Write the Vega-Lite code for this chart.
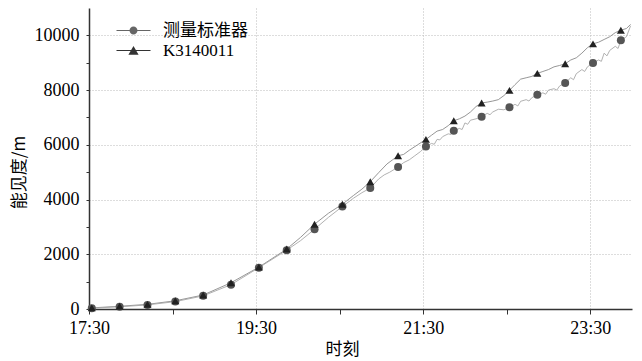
{
  "$schema": "https://vega.github.io/schema/vega-lite/v6.json",
  "width": 543,
  "height": 301,
  "autosize": {"type": "none"},
  "padding": {"left": 89, "top": 8, "right": 10, "bottom": 52},
  "background": "white",
  "config": {
    "view": {"stroke": null},
    "font": "Liberation Serif"
  },
  "datasets": {
    "lines": [
      {"t": "2020-01-01T17:30:00Z", "s": "K3140011", "v": 30},
      {"t": "2020-01-01T17:32:00Z", "s": "K3140011", "v": 40},
      {"t": "2020-01-01T17:52:00Z", "s": "K3140011", "v": 100},
      {"t": "2020-01-01T18:12:00Z", "s": "K3140011", "v": 170},
      {"t": "2020-01-01T18:32:00Z", "s": "K3140011", "v": 300},
      {"t": "2020-01-01T18:52:00Z", "s": "K3140011", "v": 510},
      {"t": "2020-01-01T19:12:00Z", "s": "K3140011", "v": 960},
      {"t": "2020-01-01T19:32:00Z", "s": "K3140011", "v": 1530},
      {"t": "2020-01-01T19:52:00Z", "s": "K3140011", "v": 2190},
      {"t": "2020-01-01T20:02:00Z", "s": "K3140011", "v": 2620},
      {"t": "2020-01-01T20:12:00Z", "s": "K3140011", "v": 3100},
      {"t": "2020-01-01T20:22:00Z", "s": "K3140011", "v": 3500},
      {"t": "2020-01-01T20:32:00Z", "s": "K3140011", "v": 3830},
      {"t": "2020-01-01T20:40:00Z", "s": "K3140011", "v": 4150},
      {"t": "2020-01-01T20:46:00Z", "s": "K3140011", "v": 4380},
      {"t": "2020-01-01T20:52:00Z", "s": "K3140011", "v": 4650},
      {"t": "2020-01-01T20:58:00Z", "s": "K3140011", "v": 4980},
      {"t": "2020-01-01T21:04:00Z", "s": "K3140011", "v": 5300},
      {"t": "2020-01-01T21:08:00Z", "s": "K3140011", "v": 5450},
      {"t": "2020-01-01T21:12:00Z", "s": "K3140011", "v": 5600},
      {"t": "2020-01-01T21:16:00Z", "s": "K3140011", "v": 5650},
      {"t": "2020-01-01T21:20:00Z", "s": "K3140011", "v": 5800},
      {"t": "2020-01-01T21:26:00Z", "s": "K3140011", "v": 6000},
      {"t": "2020-01-01T21:32:00Z", "s": "K3140011", "v": 6200},
      {"t": "2020-01-01T21:36:00Z", "s": "K3140011", "v": 6350},
      {"t": "2020-01-01T21:40:00Z", "s": "K3140011", "v": 6500},
      {"t": "2020-01-01T21:44:00Z", "s": "K3140011", "v": 6560},
      {"t": "2020-01-01T21:48:00Z", "s": "K3140011", "v": 6700},
      {"t": "2020-01-01T21:52:00Z", "s": "K3140011", "v": 6880},
      {"t": "2020-01-01T21:56:00Z", "s": "K3140011", "v": 6950},
      {"t": "2020-01-01T22:00:00Z", "s": "K3140011", "v": 7050},
      {"t": "2020-01-01T22:04:00Z", "s": "K3140011", "v": 7200},
      {"t": "2020-01-01T22:08:00Z", "s": "K3140011", "v": 7400},
      {"t": "2020-01-01T22:12:00Z", "s": "K3140011", "v": 7530},
      {"t": "2020-01-01T22:16:00Z", "s": "K3140011", "v": 7560},
      {"t": "2020-01-01T22:20:00Z", "s": "K3140011", "v": 7600},
      {"t": "2020-01-01T22:24:00Z", "s": "K3140011", "v": 7650},
      {"t": "2020-01-01T22:28:00Z", "s": "K3140011", "v": 7800},
      {"t": "2020-01-01T22:32:00Z", "s": "K3140011", "v": 7990},
      {"t": "2020-01-01T22:36:00Z", "s": "K3140011", "v": 8200},
      {"t": "2020-01-01T22:40:00Z", "s": "K3140011", "v": 8400},
      {"t": "2020-01-01T22:44:00Z", "s": "K3140011", "v": 8450},
      {"t": "2020-01-01T22:48:00Z", "s": "K3140011", "v": 8500},
      {"t": "2020-01-01T22:52:00Z", "s": "K3140011", "v": 8610},
      {"t": "2020-01-01T22:56:00Z", "s": "K3140011", "v": 8680},
      {"t": "2020-01-01T23:00:00Z", "s": "K3140011", "v": 8750},
      {"t": "2020-01-01T23:04:00Z", "s": "K3140011", "v": 8850},
      {"t": "2020-01-01T23:08:00Z", "s": "K3140011", "v": 8900},
      {"t": "2020-01-01T23:12:00Z", "s": "K3140011", "v": 8960},
      {"t": "2020-01-01T23:16:00Z", "s": "K3140011", "v": 9100},
      {"t": "2020-01-01T23:20:00Z", "s": "K3140011", "v": 9180},
      {"t": "2020-01-01T23:24:00Z", "s": "K3140011", "v": 9350},
      {"t": "2020-01-01T23:28:00Z", "s": "K3140011", "v": 9550},
      {"t": "2020-01-01T23:32:00Z", "s": "K3140011", "v": 9690},
      {"t": "2020-01-01T23:36:00Z", "s": "K3140011", "v": 9750},
      {"t": "2020-01-01T23:40:00Z", "s": "K3140011", "v": 9850},
      {"t": "2020-01-01T23:44:00Z", "s": "K3140011", "v": 9950},
      {"t": "2020-01-01T23:48:00Z", "s": "K3140011", "v": 10100},
      {"t": "2020-01-01T23:52:00Z", "s": "K3140011", "v": 10190},
      {"t": "2020-01-01T23:56:00Z", "s": "K3140011", "v": 10250},
      {"t": "2020-01-01T23:59:00Z", "s": "K3140011", "v": 10400},
      {"t": "2020-01-01T17:30:00Z", "s": "测量标准器", "v": 25},
      {"t": "2020-01-01T17:32:00Z", "s": "测量标准器", "v": 30},
      {"t": "2020-01-01T17:52:00Z", "s": "测量标准器", "v": 80},
      {"t": "2020-01-01T18:12:00Z", "s": "测量标准器", "v": 150},
      {"t": "2020-01-01T18:32:00Z", "s": "测量标准器", "v": 270},
      {"t": "2020-01-01T18:52:00Z", "s": "测量标准器", "v": 480},
      {"t": "2020-01-01T19:12:00Z", "s": "测量标准器", "v": 890},
      {"t": "2020-01-01T19:32:00Z", "s": "测量标准器", "v": 1510},
      {"t": "2020-01-01T19:52:00Z", "s": "测量标准器", "v": 2150},
      {"t": "2020-01-01T20:02:00Z", "s": "测量标准器", "v": 2500},
      {"t": "2020-01-01T20:12:00Z", "s": "测量标准器", "v": 2915},
      {"t": "2020-01-01T20:22:00Z", "s": "测量标准器", "v": 3350},
      {"t": "2020-01-01T20:32:00Z", "s": "测量标准器", "v": 3745},
      {"t": "2020-01-01T20:40:00Z", "s": "测量标准器", "v": 4050},
      {"t": "2020-01-01T20:46:00Z", "s": "测量标准器", "v": 4250},
      {"t": "2020-01-01T20:52:00Z", "s": "测量标准器", "v": 4420},
      {"t": "2020-01-01T20:58:00Z", "s": "测量标准器", "v": 4750},
      {"t": "2020-01-01T21:02:00Z", "s": "测量标准器", "v": 4900},
      {"t": "2020-01-01T21:06:00Z", "s": "测量标准器", "v": 5000},
      {"t": "2020-01-01T21:12:00Z", "s": "测量标准器", "v": 5190},
      {"t": "2020-01-01T21:16:00Z", "s": "测量标准器", "v": 5350},
      {"t": "2020-01-01T21:20:00Z", "s": "测量标准器", "v": 5450},
      {"t": "2020-01-01T21:24:00Z", "s": "测量标准器", "v": 5600},
      {"t": "2020-01-01T21:28:00Z", "s": "测量标准器", "v": 5750},
      {"t": "2020-01-01T21:32:00Z", "s": "测量标准器", "v": 5940},
      {"t": "2020-01-01T21:36:00Z", "s": "测量标准器", "v": 6050},
      {"t": "2020-01-01T21:38:00Z", "s": "测量标准器", "v": 6020},
      {"t": "2020-01-01T21:40:00Z", "s": "测量标准器", "v": 6200},
      {"t": "2020-01-01T21:42:00Z", "s": "测量标准器", "v": 6180},
      {"t": "2020-01-01T21:44:00Z", "s": "测量标准器", "v": 6300},
      {"t": "2020-01-01T21:48:00Z", "s": "测量标准器", "v": 6400},
      {"t": "2020-01-01T21:50:00Z", "s": "测量标准器", "v": 6380},
      {"t": "2020-01-01T21:52:00Z", "s": "测量标准器", "v": 6510},
      {"t": "2020-01-01T21:56:00Z", "s": "测量标准器", "v": 6600},
      {"t": "2020-01-01T21:58:00Z", "s": "测量标准器", "v": 6560},
      {"t": "2020-01-01T22:00:00Z", "s": "测量标准器", "v": 6800},
      {"t": "2020-01-01T22:02:00Z", "s": "测量标准器", "v": 6750},
      {"t": "2020-01-01T22:04:00Z", "s": "测量标准器", "v": 6900},
      {"t": "2020-01-01T22:08:00Z", "s": "测量标准器", "v": 6950},
      {"t": "2020-01-01T22:12:00Z", "s": "测量标准器", "v": 7030},
      {"t": "2020-01-01T22:16:00Z", "s": "测量标准器", "v": 7150},
      {"t": "2020-01-01T22:18:00Z", "s": "测量标准器", "v": 7100},
      {"t": "2020-01-01T22:20:00Z", "s": "测量标准器", "v": 7200},
      {"t": "2020-01-01T22:24:00Z", "s": "测量标准器", "v": 7300},
      {"t": "2020-01-01T22:28:00Z", "s": "测量标准器", "v": 7280},
      {"t": "2020-01-01T22:32:00Z", "s": "测量标准器", "v": 7370},
      {"t": "2020-01-01T22:36:00Z", "s": "测量标准器", "v": 7480},
      {"t": "2020-01-01T22:38:00Z", "s": "测量标准器", "v": 7420},
      {"t": "2020-01-01T22:40:00Z", "s": "测量标准器", "v": 7590},
      {"t": "2020-01-01T22:44:00Z", "s": "测量标准器", "v": 7650},
      {"t": "2020-01-01T22:46:00Z", "s": "测量标准器", "v": 7600},
      {"t": "2020-01-01T22:48:00Z", "s": "测量标准器", "v": 7720},
      {"t": "2020-01-01T22:52:00Z", "s": "测量标准器", "v": 7830},
      {"t": "2020-01-01T22:56:00Z", "s": "测量标准器", "v": 7900},
      {"t": "2020-01-01T22:58:00Z", "s": "测量标准器", "v": 7850},
      {"t": "2020-01-01T23:00:00Z", "s": "测量标准器", "v": 8000},
      {"t": "2020-01-01T23:04:00Z", "s": "测量标准器", "v": 8050},
      {"t": "2020-01-01T23:06:00Z", "s": "测量标准器", "v": 8000},
      {"t": "2020-01-01T23:08:00Z", "s": "测量标准器", "v": 8150},
      {"t": "2020-01-01T23:12:00Z", "s": "测量标准器", "v": 8260},
      {"t": "2020-01-01T23:16:00Z", "s": "测量标准器", "v": 8450},
      {"t": "2020-01-01T23:18:00Z", "s": "测量标准器", "v": 8380},
      {"t": "2020-01-01T23:20:00Z", "s": "测量标准器", "v": 8600},
      {"t": "2020-01-01T23:24:00Z", "s": "测量标准器", "v": 8750},
      {"t": "2020-01-01T23:26:00Z", "s": "测量标准器", "v": 8680},
      {"t": "2020-01-01T23:28:00Z", "s": "测量标准器", "v": 8850},
      {"t": "2020-01-01T23:32:00Z", "s": "测量标准器", "v": 8990},
      {"t": "2020-01-01T23:36:00Z", "s": "测量标准器", "v": 9100},
      {"t": "2020-01-01T23:38:00Z", "s": "测量标准器", "v": 9050},
      {"t": "2020-01-01T23:40:00Z", "s": "测量标准器", "v": 9350},
      {"t": "2020-01-01T23:42:00Z", "s": "测量标准器", "v": 9250},
      {"t": "2020-01-01T23:44:00Z", "s": "测量标准器", "v": 9450},
      {"t": "2020-01-01T23:48:00Z", "s": "测量标准器", "v": 9600},
      {"t": "2020-01-01T23:50:00Z", "s": "测量标准器", "v": 9520},
      {"t": "2020-01-01T23:52:00Z", "s": "测量标准器", "v": 9820},
      {"t": "2020-01-01T23:56:00Z", "s": "测量标准器", "v": 9950},
      {"t": "2020-01-01T23:59:00Z", "s": "测量标准器", "v": 10350}
    ],
    "markers": [
      {"t": "2020-01-01T17:32:00Z", "s": "测量标准器", "v": 30},
      {"t": "2020-01-01T17:52:00Z", "s": "测量标准器", "v": 80},
      {"t": "2020-01-01T18:12:00Z", "s": "测量标准器", "v": 150},
      {"t": "2020-01-01T18:32:00Z", "s": "测量标准器", "v": 270},
      {"t": "2020-01-01T18:52:00Z", "s": "测量标准器", "v": 480},
      {"t": "2020-01-01T19:12:00Z", "s": "测量标准器", "v": 890},
      {"t": "2020-01-01T19:32:00Z", "s": "测量标准器", "v": 1510},
      {"t": "2020-01-01T19:52:00Z", "s": "测量标准器", "v": 2150},
      {"t": "2020-01-01T20:12:00Z", "s": "测量标准器", "v": 2915},
      {"t": "2020-01-01T20:32:00Z", "s": "测量标准器", "v": 3745},
      {"t": "2020-01-01T20:52:00Z", "s": "测量标准器", "v": 4420},
      {"t": "2020-01-01T21:12:00Z", "s": "测量标准器", "v": 5190},
      {"t": "2020-01-01T21:32:00Z", "s": "测量标准器", "v": 5940},
      {"t": "2020-01-01T21:52:00Z", "s": "测量标准器", "v": 6510},
      {"t": "2020-01-01T22:12:00Z", "s": "测量标准器", "v": 7030},
      {"t": "2020-01-01T22:32:00Z", "s": "测量标准器", "v": 7370},
      {"t": "2020-01-01T22:52:00Z", "s": "测量标准器", "v": 7830},
      {"t": "2020-01-01T23:12:00Z", "s": "测量标准器", "v": 8260},
      {"t": "2020-01-01T23:32:00Z", "s": "测量标准器", "v": 8990},
      {"t": "2020-01-01T23:52:00Z", "s": "测量标准器", "v": 9820},
      {"t": "2020-01-01T17:32:00Z", "s": "K3140011", "v": 40},
      {"t": "2020-01-01T17:52:00Z", "s": "K3140011", "v": 100},
      {"t": "2020-01-01T18:12:00Z", "s": "K3140011", "v": 170},
      {"t": "2020-01-01T18:32:00Z", "s": "K3140011", "v": 300},
      {"t": "2020-01-01T18:52:00Z", "s": "K3140011", "v": 510},
      {"t": "2020-01-01T19:12:00Z", "s": "K3140011", "v": 960},
      {"t": "2020-01-01T19:32:00Z", "s": "K3140011", "v": 1530},
      {"t": "2020-01-01T19:52:00Z", "s": "K3140011", "v": 2190},
      {"t": "2020-01-01T20:12:00Z", "s": "K3140011", "v": 3100},
      {"t": "2020-01-01T20:32:00Z", "s": "K3140011", "v": 3830},
      {"t": "2020-01-01T20:52:00Z", "s": "K3140011", "v": 4650},
      {"t": "2020-01-01T21:12:00Z", "s": "K3140011", "v": 5600},
      {"t": "2020-01-01T21:32:00Z", "s": "K3140011", "v": 6200},
      {"t": "2020-01-01T21:52:00Z", "s": "K3140011", "v": 6880},
      {"t": "2020-01-01T22:12:00Z", "s": "K3140011", "v": 7530},
      {"t": "2020-01-01T22:32:00Z", "s": "K3140011", "v": 7990},
      {"t": "2020-01-01T22:52:00Z", "s": "K3140011", "v": 8610},
      {"t": "2020-01-01T23:12:00Z", "s": "K3140011", "v": 8960},
      {"t": "2020-01-01T23:32:00Z", "s": "K3140011", "v": 9690},
      {"t": "2020-01-01T23:52:00Z", "s": "K3140011", "v": 10190}
    ]
  },
  "encoding": {
    "x": {
      "field": "t",
      "type": "temporal",
      "scale": {"type": "utc", "domain": [{"year": 2020, "month": 1, "date": 1, "hours": 17, "minutes": 30, "utc": true}, {"year": 2020, "month": 1, "date": 2, "hours": 0, "minutes": 0, "utc": true}]},
      "axis": {
        "title": "时刻",
        "titleFont": "Noto Sans CJK SC",
        "titleFontSize": 17,
        "titleFontWeight": "normal",
        "titleColor": "#000",
        "titleX": 253,
        "titleY": 40,
        "titleAlign": "center",
        "titleBaseline": "middle",
        "values": [
          {"year": 2020, "month": 1, "date": 1, "hours": 17, "minutes": 30, "utc": true},
          {"year": 2020, "month": 1, "date": 1, "hours": 18, "minutes": 30, "utc": true},
          {"year": 2020, "month": 1, "date": 1, "hours": 19, "minutes": 30, "utc": true},
          {"year": 2020, "month": 1, "date": 1, "hours": 20, "minutes": 30, "utc": true},
          {"year": 2020, "month": 1, "date": 1, "hours": 21, "minutes": 30, "utc": true},
          {"year": 2020, "month": 1, "date": 1, "hours": 22, "minutes": 30, "utc": true},
          {"year": 2020, "month": 1, "date": 1, "hours": 23, "minutes": 30, "utc": true}
        ],
        "labelExpr": "utchours(datum.value) % 2 == 1 ? utcFormat(datum.value, '%H:%M') : ''",
        "labelFont": "Liberation Serif, DejaVu Serif, serif",
        "labelFontSize": 18,
        "labelColor": "#000",
        "labelPadding": 5,
        "labelFlush": false,
        "labelOverlap": false,
        "tickSize": 5,
        "tickColor": "#333",
        "tickWidth": 1,
        "domainColor": "#333",
        "domainWidth": 1.5,
        "grid": true,
        "gridColor": "#bbb",
        "gridDash": [1, 2],
        "gridWidth": 1,
        "gridOpacity": {"condition": {"test": "utchours(datum.value) % 2 == 1 && utchours(datum.value) > 17", "value": 1}, "value": 0}
      }
    },
    "y": {
      "field": "v",
      "type": "quantitative",
      "scale": {"domain": [0, 11000], "nice": false},
      "axis": {
        "title": "能见度/m",
        "titleFont": "Noto Sans CJK SC",
        "titleFontSize": 17,
        "titleFontWeight": "normal",
        "titleColor": "#000",
        "titleAngle": -90,
        "titleX": -70,
        "titleY": 164,
        "titleAlign": "center",
        "titleBaseline": "middle",
        "values": [0, 1000, 2000, 3000, 4000, 5000, 6000, 7000, 8000, 9000, 10000],
        "labelExpr": "datum.value % 2000 == 0 ? format(datum.value, 'd') : ''",
        "labelFont": "Liberation Serif, DejaVu Serif, serif",
        "labelFontSize": 18,
        "labelColor": "#000",
        "labelPadding": 7,
        "labelFlush": false,
        "labelOverlap": false,
        "tickSize": 3,
        "tickColor": "#333",
        "domainColor": "#333",
        "domainWidth": 1.5,
        "grid": true,
        "gridColor": "#bbb",
        "gridDash": [1, 2],
        "gridWidth": 1,
        "gridOpacity": {"condition": {"test": "datum.value % 2000 == 0 && datum.value > 0", "value": 1}, "value": 0}
      }
    }
  },
  "layer": [
    {
      "data": {"name": "lines"},
      "mark": {"type": "line", "strokeWidth": 0.9, "interpolate": "linear"},
      "encoding": {
        "detail": {"field": "s"},
        "stroke": {"field": "s", "type": "nominal", "scale": {"domain": ["测量标准器", "K3140011"], "range": ["#a8a8a8", "#8a8a8a"]}, "legend": null}
      }
    },
    {
      "data": {"name": "markers"},
      "mark": {"type": "point", "filled": true, "opacity": 1, "strokeWidth": 0},
      "encoding": {
        "shape": {"field": "s", "type": "nominal", "scale": {"domain": ["测量标准器", "K3140011"], "range": ["circle", "triangle-up"]}, "legend": null},
        "fill": {"field": "s", "type": "nominal", "scale": {"domain": ["测量标准器", "K3140011"], "range": ["#555555", "#222222"]}, "legend": null},
        "size": {"value": 64}
      }
    },
    {
      "data": {"name": "markers"},
      "transform": [{"filter": "datum.v < 0"}],
      "mark": {"type": "point", "filled": true, "opacity": 1},
      "encoding": {
        "shape": {"field": "s", "type": "nominal",
          "scale": {"domain": ["测量标准器", "K3140011"], "range": ["M-2,-0.05L2,-0.05L2,0.05L-2,0.05ZM0.47,0A0.47,0.47,0,1,1,-0.47,0A0.47,0.47,0,1,1,0.47,0Z", "M-2,-0.05L2,-0.05L2,0.05L-2,0.05ZM0,-0.52L0.6,0.5L-0.6,0.5Z"]},
          "title": null,
          "legend": {
            "orient": "none",
            "legendX": 35,
            "legendY": 13,
            "padding": 0,
            "symbolSize": 289,
            "rowPadding": 2,
            "labelOffset": 20,
            "labelFont": "Liberation Serif, Noto Sans CJK SC",
            "labelFontSize": 17,
            "labelColor": "#000",
            "symbolOpacity": 1
          }
        },
        "fill": {"field": "s", "type": "nominal", "scale": {"domain": ["测量标准器", "K3140011"], "range": ["#666666", "#333333"]}, "title": null,
          "legend": {
            "orient": "none",
            "legendX": 35,
            "legendY": 13,
            "padding": 0,
            "symbolSize": 289,
            "rowPadding": 2,
            "labelOffset": 20,
            "labelFont": "Liberation Serif, Noto Sans CJK SC",
            "labelFontSize": 17,
            "labelColor": "#000",
            "symbolOpacity": 1
          }
        }
      }
    }
  ],
  "resolve": {"scale": {"stroke": "independent", "fill": "independent", "shape": "independent"}}
}
